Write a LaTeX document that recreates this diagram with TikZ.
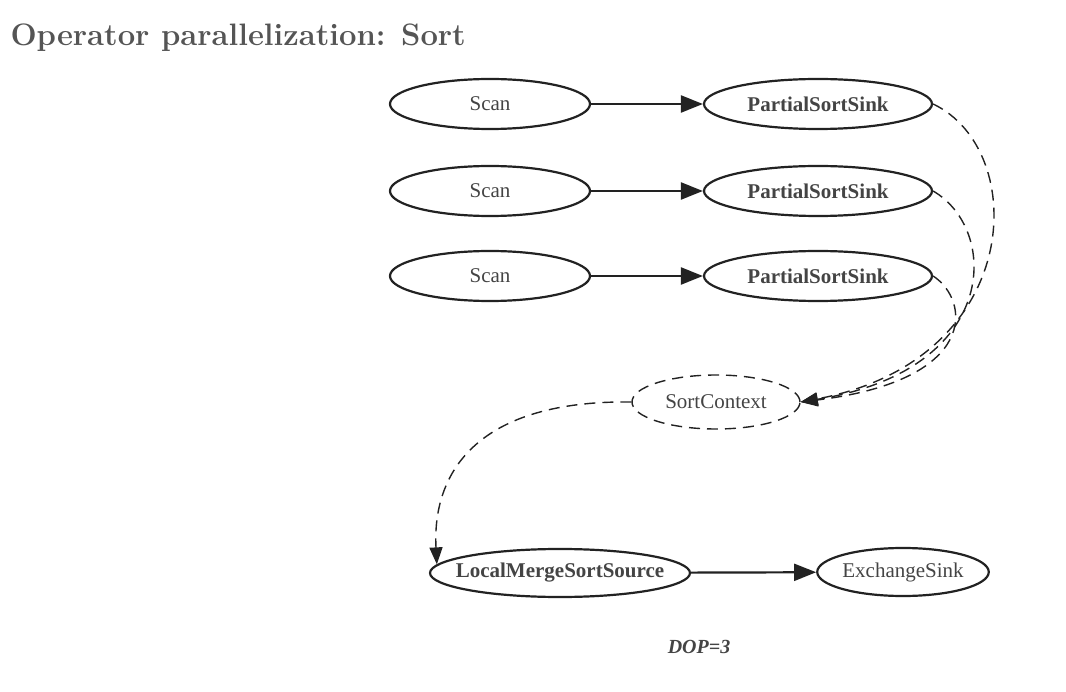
\documentclass[tikz,border=0pt]{standalone}
\usepackage{fontspec}
\setmainfont{Liberation Serif}
\newfontfamily\titlefont{Latin Modern Roman}
\usetikzlibrary{arrows.meta,shapes.geometric}
\definecolor{txt}{HTML}{444444}
\definecolor{ln}{HTML}{222222}
\definecolor{ttl}{HTML}{555555}
\tikzset{
  op/.style={ellipse, draw=ln, line width=2.2pt, inner sep=0pt, text=txt, font=\fontsize{21}{24}\selectfont},
  bop/.style={op, font=\fontsize{21}{24}\selectfont\bfseries},
  flow/.style={draw=ln, line width=2.2pt, -{Triangle[length=22pt,width=17pt]}},
  dflow/.style={draw=ln, line width=1.4pt, dash pattern=on 11pt off 7pt, -{Triangle[length=17pt,width=13pt]}},
}
\begin{document}
\begin{tikzpicture}[x=1pt,y=-1pt]
\useasboundingbox (0,0) rectangle (1066,692);
\node[anchor=base west, text=ttl, font=\titlefont\fontsize{31}{34}\bfseries] (title) at (7,46) {Operator parallelization: Sort};

\node[op, minimum width=200pt, minimum height=50pt] (s1) at (490,104) {Scan};
\node[op, minimum width=200pt, minimum height=50pt] (s2) at (490,191) {Scan};
\node[op, minimum width=200pt, minimum height=50pt] (s3) at (490,276) {Scan};
\node[bop, minimum width=228pt, minimum height=50pt] (p1) at (818,104) {PartialSortSink};
\node[bop, minimum width=228pt, minimum height=50pt] (p2) at (818,191) {PartialSortSink};
\node[bop, minimum width=228pt, minimum height=50pt] (p3) at (818,276) {PartialSortSink};
\node[op, dash pattern=on 11pt off 7pt, line width=1.4pt, minimum width=168pt, minimum height=54pt] (sc) at (716,402) {SortContext};
\node[bop, inner xsep=-16pt, minimum width=260pt, minimum height=48pt] (lm) at (560,573) {LocalMergeSortSource};
\node[op, minimum width=170pt, minimum height=48pt] (ex) at (903,572) {ExchangeSink};
\node[text=txt, font=\fontsize{20}{22}\selectfont\bfseries\itshape] (dop) at (699,647) {DOP=3};

\draw[flow] (s1) -- (p1);
\draw[flow] (s2) -- (p2);
\draw[flow] (s3) -- (p3);
\draw[flow] (lm) -- (ex);

\draw[dflow] (p1.east) .. controls (1030,150) and (1025,360) .. (sc.east);
\draw[dflow] (p2.east) .. controls (1000,230) and (1000,370) .. (sc.east);
\draw[dflow] (p3.east) .. controls (970,300) and (980,380) .. (sc.east);
\draw[dflow] (sc.west) .. controls (480,400) and (432,470) .. (lm.176);
\end{tikzpicture}
\end{document}
